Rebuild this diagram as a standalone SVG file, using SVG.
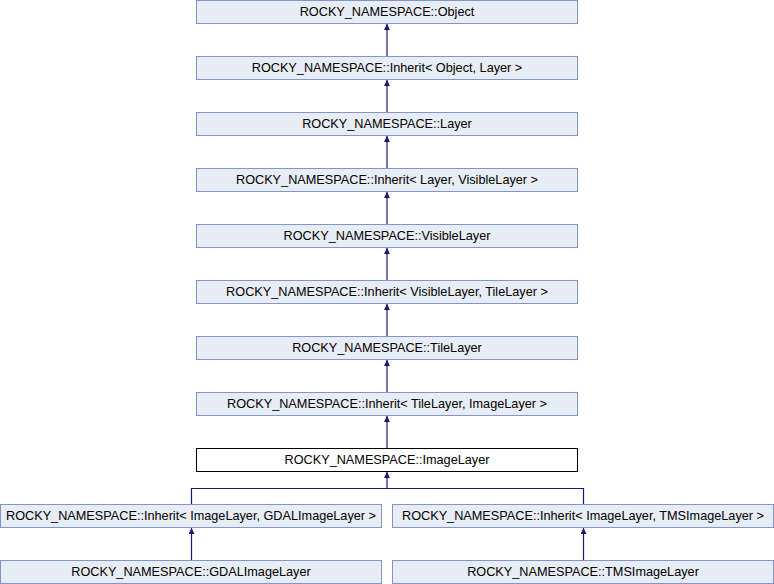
<svg xmlns="http://www.w3.org/2000/svg" width="774" height="584" viewBox="0 0 774 584">
  <style>
    .node rect { fill: #e8ecf5; stroke: #7f95cc; stroke-width: 1; }
    .node.current rect { fill: #ffffff; stroke: #000000; }
    .node text { font-family: "Liberation Sans", Arial, sans-serif; font-size: 12.7px; fill: #000000; text-anchor: middle; }
    .edge { fill: none; stroke: #191970; stroke-width: 1.2; }
  </style>
  <defs>
    <marker id="arrow" viewBox="0 0 10 10" refX="10" refY="5" markerWidth="6" markerHeight="6" markerUnits="userSpaceOnUse" orient="auto">
      <path d="M0,0 L10,5 L0,10 Z" fill="#191970"/>
    </marker>
  </defs>
  <rect width="774" height="584" fill="#ffffff"/>

  <g id="connectors">
    <path class="edge" d="M387,56.5 V24" marker-end="url(#arrow)"/>
    <path class="edge" d="M387,112.5 V80" marker-end="url(#arrow)"/>
    <path class="edge" d="M387,168.5 V136" marker-end="url(#arrow)"/>
    <path class="edge" d="M387,224.5 V192" marker-end="url(#arrow)"/>
    <path class="edge" d="M387,280.5 V248" marker-end="url(#arrow)"/>
    <path class="edge" d="M387,336.5 V304" marker-end="url(#arrow)"/>
    <path class="edge" d="M387,392.5 V360" marker-end="url(#arrow)"/>
    <path class="edge" d="M387,448.5 V416" marker-end="url(#arrow)"/>
    <path class="edge" d="M191.5,504.5 V488.5 H583.5 V504.5"/>
    <path class="edge" d="M387,488.5 V472" marker-end="url(#arrow)"/>
    <path class="edge" d="M191.5,560.5 V528" marker-end="url(#arrow)"/>
    <path class="edge" d="M583.5,560.5 V528" marker-end="url(#arrow)"/>
  </g>

  <g id="object" class="node">
    <rect x="196.5" y="0.5" width="381" height="23"/>
    <text x="387" y="16">ROCKY_NAMESPACE::Object</text>
  </g>
  <g id="inherit-object-layer" class="node">
    <rect x="196.5" y="56.5" width="381" height="23"/>
    <text x="387" y="72">ROCKY_NAMESPACE::Inherit&lt; Object, Layer &gt;</text>
  </g>
  <g id="layer" class="node">
    <rect x="196.5" y="112.5" width="381" height="23"/>
    <text x="387" y="128">ROCKY_NAMESPACE::Layer</text>
  </g>
  <g id="inherit-layer-visiblelayer" class="node">
    <rect x="196.5" y="168.5" width="381" height="23"/>
    <text x="387" y="184">ROCKY_NAMESPACE::Inherit&lt; Layer, VisibleLayer &gt;</text>
  </g>
  <g id="visiblelayer" class="node">
    <rect x="196.5" y="224.5" width="381" height="23"/>
    <text x="387" y="240">ROCKY_NAMESPACE::VisibleLayer</text>
  </g>
  <g id="inherit-visiblelayer-tilelayer" class="node">
    <rect x="196.5" y="280.5" width="381" height="23"/>
    <text x="387" y="296">ROCKY_NAMESPACE::Inherit&lt; VisibleLayer, TileLayer &gt;</text>
  </g>
  <g id="tilelayer" class="node">
    <rect x="196.5" y="336.5" width="381" height="23"/>
    <text x="387" y="352">ROCKY_NAMESPACE::TileLayer</text>
  </g>
  <g id="inherit-tilelayer-imagelayer" class="node">
    <rect x="196.5" y="392.5" width="381" height="23"/>
    <text x="387" y="408">ROCKY_NAMESPACE::Inherit&lt; TileLayer, ImageLayer &gt;</text>
  </g>
  <g id="imagelayer" class="node current">
    <rect x="196.5" y="448.5" width="381" height="23"/>
    <text x="387" y="464">ROCKY_NAMESPACE::ImageLayer</text>
  </g>
  <g id="inherit-imagelayer-gdalimagelayer" class="node">
    <rect x="0.5" y="504.5" width="381" height="23"/>
    <text x="191" y="520">ROCKY_NAMESPACE::Inherit&lt; ImageLayer, GDALImageLayer &gt;</text>
  </g>
  <g id="inherit-imagelayer-tmsimagelayer" class="node">
    <rect x="392.5" y="504.5" width="381" height="23"/>
    <text x="583" y="520">ROCKY_NAMESPACE::Inherit&lt; ImageLayer, TMSImageLayer &gt;</text>
  </g>
  <g id="gdalimagelayer" class="node">
    <rect x="0.5" y="560.5" width="381" height="23"/>
    <text x="191" y="576">ROCKY_NAMESPACE::GDALImageLayer</text>
  </g>
  <g id="tmsimagelayer" class="node">
    <rect x="392.5" y="560.5" width="381" height="23"/>
    <text x="583" y="576">ROCKY_NAMESPACE::TMSImageLayer</text>
  </g>
</svg>
